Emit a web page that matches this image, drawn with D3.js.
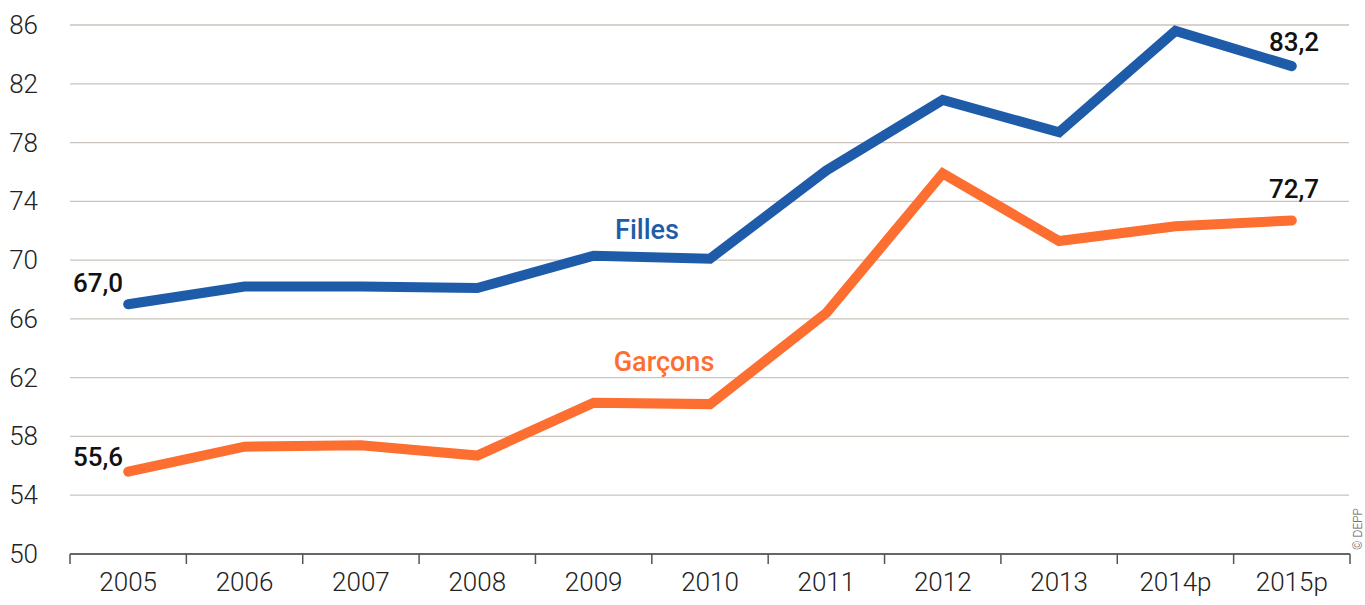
<!DOCTYPE html>
<html><head><meta charset="utf-8">
<script src="https://cdn.jsdelivr.net/npm/d3@7"></script>
<style>
html,body{margin:0;padding:0;background:#fff;}
svg{display:block;}
text{font-family:Roboto,"DejaVu Sans Condensed",sans-serif;}
</style></head>
<body><svg id="c" width="1365" height="605"></svg>
<script>
const categories = ["2005","2006","2007","2008","2009","2010","2011","2012","2013","2014p","2015p"];
const filles  = [67.0, 68.2, 68.2, 68.1, 70.3, 70.1, 76.1, 80.9, 78.7, 85.6, 83.2];
const garcons = [55.6, 57.3, 57.4, 56.7, 60.3, 60.2, 66.4, 75.9, 71.3, 72.3, 72.7];
const yTicks = [50, 54, 58, 62, 66, 70, 74, 78, 82, 86];
const seriesNames = ["Filles", "Garçons"];
const source = "© DEPP";

const svg = d3.select("#c");
const x = d3.scaleBand().domain(categories).range([70, 1350]);
const y = d3.scaleLinear().domain([50, 86]).range([554, 25]);
const cx = d => x(d) + x.bandwidth()/2;

// gridlines
svg.append("g").selectAll("line").data(yTicks.filter(t => t > 50)).join("line")
  .attr("x1", 70).attr("x2", 1349)
  .attr("y1", d => y(d)).attr("y2", d => y(d))
  .attr("stroke", "#cbc3bd").attr("stroke-width", 1.3);

// y labels
svg.append("g").selectAll("text").data(yTicks).join("text")
  .attr("x", 38).attr("y", d => y(d) + 9)
  .attr("text-anchor", "end")
  .attr("font-size", 26).attr("font-weight", 300).attr("fill", "#222")
  .text(d => d);

// x axis
const gx = svg.append("g").attr("transform", "translate(0,554)");
gx.append("line").attr("x1", 70).attr("x2", 1350).attr("y1", 0).attr("y2", 0)
  .attr("stroke", "#333").attr("stroke-width", 1.5);
const bounds = categories.map(c => x(c)).concat([x.range()[1]]);
gx.selectAll("line.tk").data(bounds).join("line").attr("class","tk")
  .attr("x1", d => d).attr("x2", d => d).attr("y1", 0).attr("y2", 10)
  .attr("stroke", "#555").attr("stroke-width", 1.5);
gx.selectAll("text.xl").data(categories).join("text").attr("class","xl")
  .attr("x", d => cx(d)).attr("y", 37)
  .attr("text-anchor", "middle")
  .attr("font-size", 26).attr("font-weight", 300).attr("fill", "#222")
  .text(d => d);

// lines
const line = d3.line().x((d,i) => cx(categories[i])).y(d => y(d));
svg.append("path").datum(garcons).attr("d", line)
  .attr("fill","none").attr("stroke","#fd6e31").attr("stroke-width",10)
  .attr("stroke-linecap","round").attr("stroke-linejoin","miter");
svg.append("path").datum(filles).attr("d", line)
  .attr("fill","none").attr("stroke","#1e5ca9").attr("stroke-width",10)
  .attr("stroke-linecap","round").attr("stroke-linejoin","miter");

// series labels
svg.append("text").attr("x", 647).attr("y", 239).attr("text-anchor","middle")
  .attr("font-size", 27).attr("font-weight", 500).attr("fill", "#1e5ca9").text(seriesNames[0]);
svg.append("text").attr("x", 664).attr("y", 371).attr("text-anchor","middle")
  .attr("font-size", 27).attr("font-weight", 500).attr("fill", "#fd6e31").text(seriesNames[1]);

// value labels
const fmt = v => v.toFixed(1).replace(".", ",");
const last = categories.length - 1;
const vals = [
  {v: filles[0], x: 98, y: y(filles[0]) - 12},
  {v: garcons[0], x: 98, y: y(garcons[0]) - 6},
  {v: filles[last], x: 1294, y: y(filles[last]) - 15},
  {v: garcons[last], x: 1294, y: y(garcons[last]) - 22}
];
svg.append("g").selectAll("text").data(vals).join("text")
  .attr("x", d => d.x).attr("y", d => d.y).attr("text-anchor","middle")
  .attr("font-size", 26).attr("font-weight", 500).attr("fill", "#111")
  .text(d => fmt(d.v));

// source
svg.append("text").attr("transform", "translate(1362,550) rotate(-90)")
  .attr("font-size", 12).attr("font-weight", 300).attr("fill", "#555")
  .text(source);
</script></body></html>
